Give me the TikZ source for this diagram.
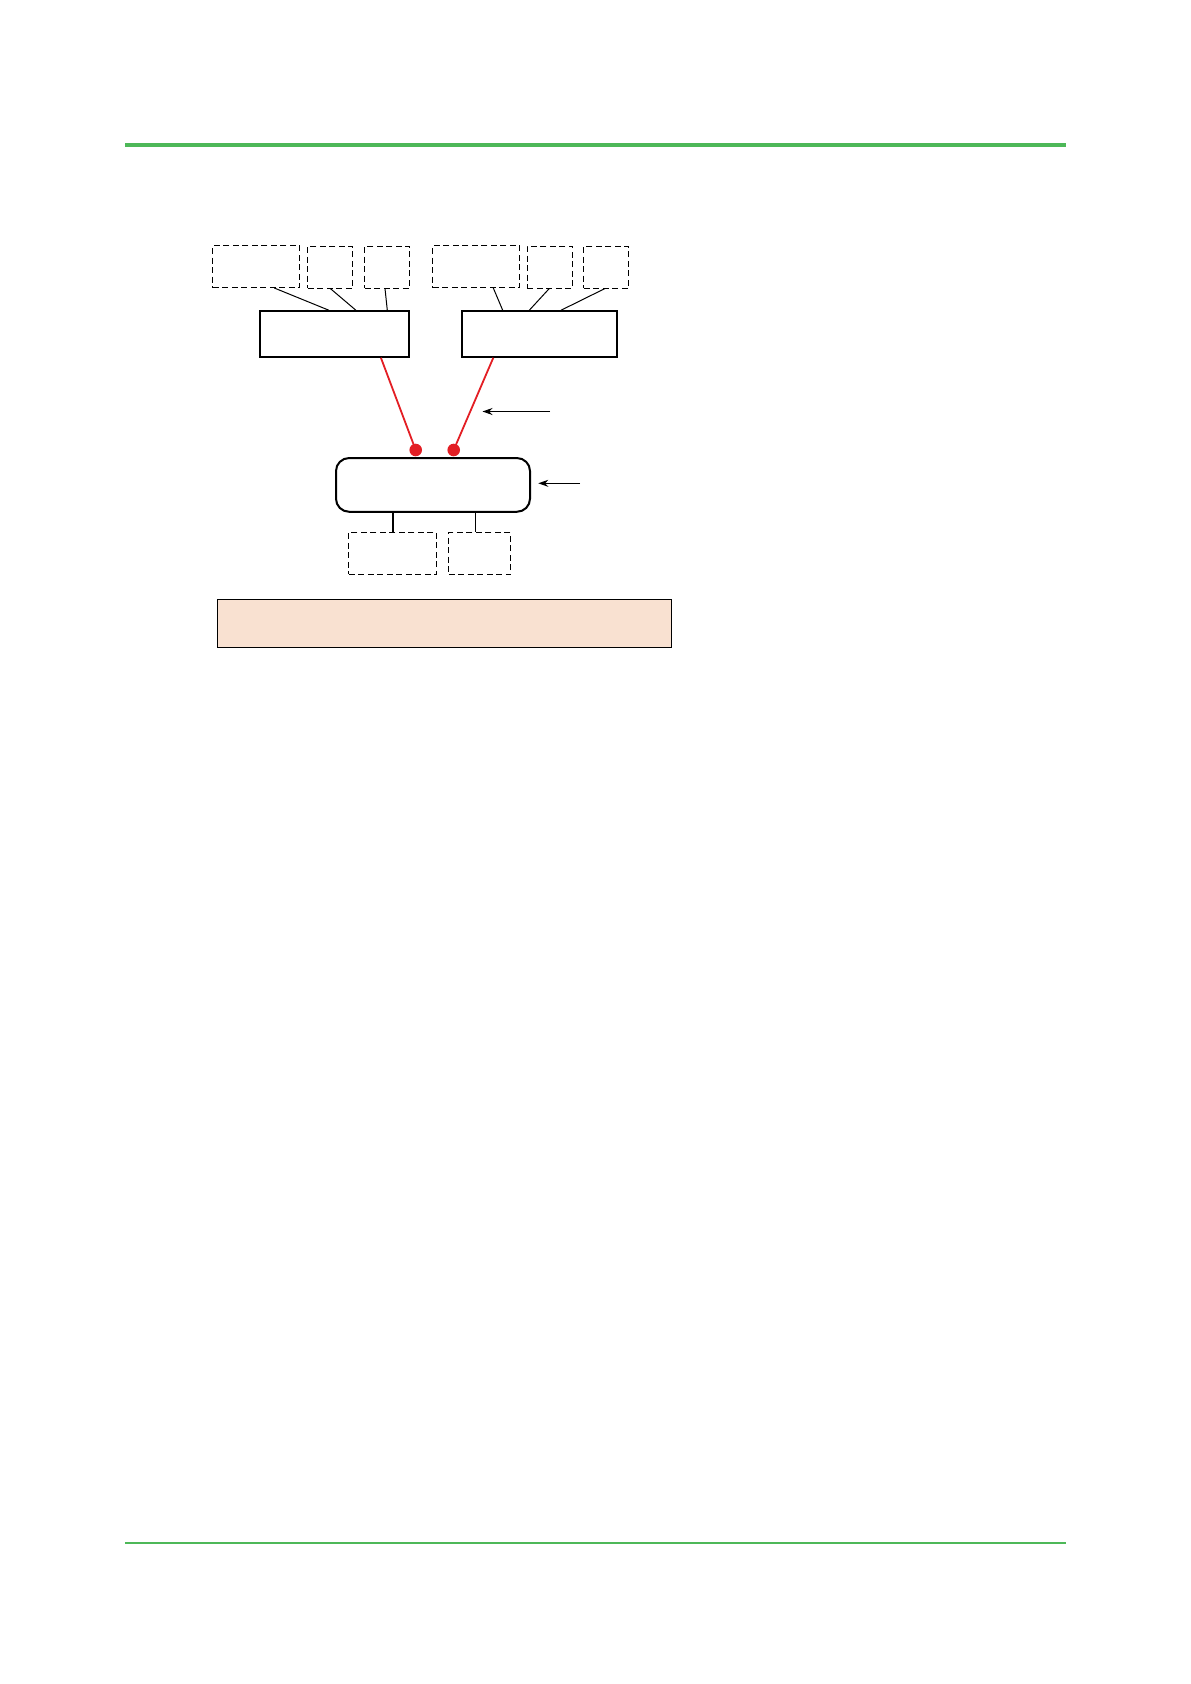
\documentclass[tikz,border=0pt]{standalone}
\usepackage{xcolor}
\usepackage{tikz}
\usetikzlibrary{shapes,arrows,positioning,calc,arrows.meta}
\definecolor{rulegreen}{RGB}{77,184,88}
\definecolor{linkred}{RGB}{227,30,36}
\definecolor{notepeach}{RGB}{249,225,209}
\tikzset{
    dashbox/.style={draw, dash pattern=on 6pt off 3.5pt, line width=1pt, inner sep=0pt, minimum height=42pt},
    ctrlbox/.style={draw, line width=2pt, inner sep=0pt, minimum width=149pt, minimum height=45.5pt},
    wire/.style={line width=1pt},
    redlink/.style={linkred, line width=1.8pt},
    reddot/.style={circle, fill=linkred, inner sep=0pt, minimum size=12.6pt},
    pointer/.style={-{Stealth[length=10pt,width=7pt]}, line width=1pt}
}
\begin{document}
\begin{tikzpicture}[x=1pt,y=-1pt]
    \useasboundingbox (0,0) rectangle (1191,1684);
    % Page rules
    \draw[rulegreen, line width=4pt] (125,144.7) -- (1066,144.7);
    \draw[rulegreen, line width=2pt] (125,1543) -- (1066,1543);

    % Field devices
    \node[dashbox, minimum width=87pt] (a1) at (256.3,266.5) {};
    \node[dashbox, minimum width=45pt] (a2) at (330.3,267) {};
    \node[dashbox, minimum width=45pt] (a3) at (387.3,267) {};
    \node[dashbox, minimum width=87pt] (b1) at (476.3,266.5) {};
    \node[dashbox, minimum width=45.5pt] (b2) at (550,267) {};
    \node[dashbox, minimum width=45pt] (b3) at (606.3,267) {};

    % Controllers
    \node[ctrlbox] (ctrlL) at (334.9,334) {};
    \node[ctrlbox, minimum width=154.7pt] (ctrlR) at (539.3,334) {};

    \draw[wire] ([xshift=18pt]a1.south) -- ([xshift=-6pt]ctrlL.north);
    \draw[wire] (a2.south) -- ([xshift=21pt]ctrlL.north);
    \draw[wire] ([xshift=-2.3pt]a3.south) -- ([xshift=52.4pt]ctrlL.north);
    \draw[wire] ([xshift=17pt]b1.south) -- ([xshift=-36.6pt]ctrlR.north);
    \draw[wire] ([xshift=-0.7pt]b2.south) -- ([xshift=-10pt]ctrlR.north);
    \draw[wire] ([xshift=-1.3pt]b3.south) -- ([xshift=21.7pt]ctrlR.north);

    % Hub and links
    \node[draw, line width=2pt, rounded corners=13pt, inner sep=0pt,
          minimum width=194pt, minimum height=53.7pt] (hub) at (433,484.9) {};
    \node[reddot] (dotL) at (415.7,450) {};
    \node[reddot] (dotR) at (453.7,450) {};
    \draw[redlink] ([xshift=46pt]ctrlL.south) -- (dotL.center);
    \draw[redlink] ([xshift=-46pt]ctrlR.south) -- (dotR.center);

    \coordinate (linktail) at (550,411.5);
    \draw[pointer] (linktail) -- (482.5,411.5);
    \coordinate (hubtail) at (580,483.3);
    \draw[pointer] (hubtail) -- ([xshift=7.3pt]hub.east |- hubtail);

    % Devices below the hub
    \node[dashbox, minimum width=87.7pt] (c1) at (392.7,553.3) {};
    \node[dashbox, minimum width=62pt] (c2) at (479.8,553.6) {};
    \draw[line width=2pt] (hub.south -| c1.north) -- (c1.north);
    \draw[wire] ([xshift=-4.5pt]c2.north |- hub.south) -- ([xshift=-4.5pt]c2.north);

    % Note bar
    \node[draw, fill=notepeach, line width=1pt, inner sep=0pt,
          minimum width=453.4pt, minimum height=48pt] (note) at (444.5,623.8) {};
\end{tikzpicture}
\end{document}
